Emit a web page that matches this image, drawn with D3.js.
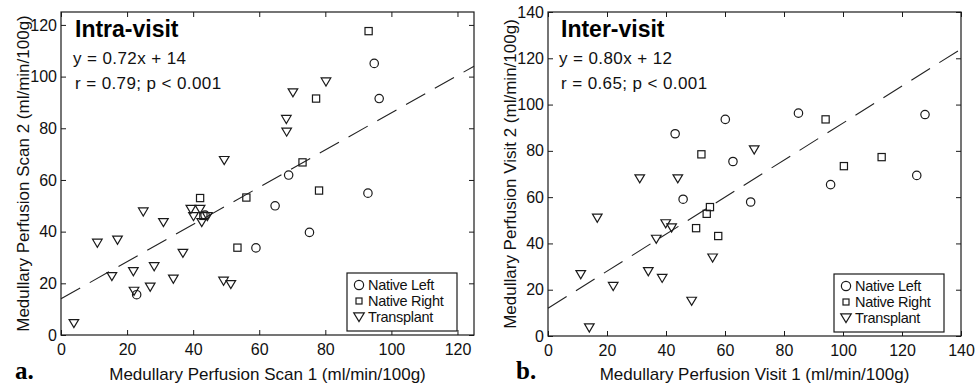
<!DOCTYPE html>
<html><head><meta charset="utf-8">
<script src="https://cdn.jsdelivr.net/npm/d3@7"></script>
<style>
html,body{margin:0;padding:0;background:#fff;}
svg{display:block;font-family:"Liberation Sans",Arial,sans-serif;}
</style></head>
<body><svg id="chart" width="980" height="390"></svg>
<script>
// ---- Data: Intra-visit (panel a) ----
const intraLeftX  = [94.8, 96.3, 68.9, 92.9, 64.8, 75.2, 59.0, 43.6, 22.9];
const intraLeftY  = [105.1, 91.5, 61.9, 54.9, 50.0, 39.7, 33.7, 46.4, 15.6];
const intraRightX = [93.1, 77.2, 73.1, 78.1, 56.1, 42.1, 43.1, 53.4];
const intraRightY = [117.6, 91.5, 66.8, 55.9, 53.2, 53.0, 46.1, 33.8];
const intraTransX = [80.2, 70.2, 68.2, 68.3, 49.4, 39.3, 42.1, 40.1, 42.6, 44.3, 24.9, 31.0, 11.0, 17.1, 36.9, 28.2, 21.9, 15.4, 34.0, 27.0, 22.1, 3.9, 49.2, 51.4];
const intraTransY = [98.0, 93.8, 83.5, 78.6, 67.6, 48.7, 48.7, 45.9, 43.6, 45.9, 47.7, 43.6, 35.6, 36.8, 31.7, 26.5, 24.6, 22.7, 21.7, 18.6, 17.0, 4.5, 20.9, 19.6];
// ---- Data: Inter-visit (panel b) ----
const interLeftX  = [43.1, 60.1, 62.7, 84.9, 127.8, 125.0, 95.8, 45.8, 68.7];
const interLeftY  = [87.4, 93.6, 75.4, 96.3, 95.7, 69.4, 65.4, 59.1, 57.9];
const interRightX = [52.0, 94.1, 113.1, 100.3, 53.8, 54.9, 50.2, 57.7];
const interRightY = [78.5, 93.6, 77.3, 73.4, 52.8, 55.7, 46.6, 43.2];
const interTransX = [31.1, 44.0, 69.9, 16.7, 39.9, 41.9, 36.7, 11.1, 22.1, 34.0, 38.7, 48.7, 14.0, 55.8];
const interTransY = [68.0, 68.0, 80.5, 51.0, 48.6, 46.8, 41.9, 26.6, 21.5, 27.9, 25.0, 15.1, 3.6, 33.8];
// ---- Fits, ticks, labels ----
const intraFit = {slope: 0.72, intercept: 14};
const interFit = {slope: 0.80, intercept: 12};
const intraTicks = [0, 20, 40, 60, 80, 100, 120];
const interTicks = [0, 20, 40, 60, 80, 100, 120, 140];
const legendLabels = ["Native Left", "Native Right", "Transplant"];

const svg = d3.select("#chart");
const INK = "#1a1a1a";

function marker(g, type, x, y, big) {
  const s = big ? 1.1 : 1;
  if (type === 0) {
    g.append("circle").attr("cx", x).attr("cy", y).attr("r", 4.2 * s)
      .attr("fill", "none").attr("stroke", INK).attr("stroke-width", 1.2);
  } else if (type === 1) {
    const h = big ? 3 : 3.6;
    g.append("rect").attr("x", x - h).attr("y", y - h).attr("width", 2 * h).attr("height", 2 * h)
      .attr("fill", "none").attr("stroke", INK).attr("stroke-width", 1.2);
  } else {
    const w = 4.8 * s, hh = 3.8 * s;
    g.append("path").attr("d", `M${x - w},${y - hh}L${x + w},${y - hh}L${x},${y + hh + 0.5}Z`)
      .attr("fill", "none").attr("stroke", INK).attr("stroke-width", 1.2);
  }
}

function panel(cfg) {
  const g = svg.append("g");
  const x = d3.scaleLinear().domain([0, cfg.max]).range([cfg.x0, cfg.x1]);
  const y = d3.scaleLinear().domain([0, cfg.max]).range([cfg.y1, cfg.y0]);

  const fs = "16px";
  const bottom = g.append("g").attr("transform", `translate(0,${cfg.y1})`)
    .call(d3.axisBottom(x).tickValues(cfg.ticks).tickSize(-5).tickPadding(9).tickFormat(d3.format("d")));
  const left = g.append("g").attr("transform", `translate(${cfg.x0},0)`)
    .call(d3.axisLeft(y).tickValues(cfg.ticks).tickSize(-5).tickPadding(4).tickFormat(d3.format("d")));
  const top = g.append("g").attr("transform", `translate(0,${cfg.y0})`)
    .call(d3.axisTop(x).tickValues(cfg.ticks).tickSize(-5).tickFormat(""));
  const right = g.append("g").attr("transform", `translate(${cfg.x1},0)`)
    .call(d3.axisRight(y).tickValues(cfg.ticks).tickSize(-5).tickFormat(""));
  [bottom, left, top, right].forEach(a => {
    a.select(".domain").remove();
    a.selectAll("line").attr("stroke", INK);
    a.selectAll("text").attr("font-size", fs).attr("fill", "#111")
      .attr("font-family", "Liberation Sans, Arial, sans-serif");
  });
  g.append("rect").attr("x", cfg.x0).attr("y", cfg.y0)
    .attr("width", cfg.x1 - cfg.x0).attr("height", cfg.y1 - cfg.y0)
    .attr("fill", "none").attr("stroke", INK).attr("stroke-width", 1.2);

  const xs = [0, cfg.max];
  g.append("line")
    .attr("x1", x(xs[0])).attr("y1", y(cfg.fit.intercept + cfg.fit.slope * xs[0]))
    .attr("x2", x(xs[1])).attr("y2", y(cfg.fit.intercept + cfg.fit.slope * xs[1]))
    .attr("stroke", "#222").attr("stroke-width", 1.1).attr("stroke-dasharray", "22,11");

  const pts = g.append("g");
  cfg.series.forEach((s, t) => {
    s.x.forEach((v, i) => marker(pts, t, x(v), y(s.y[i]), false));
  });

  g.append("text").attr("x", cfg.tx).attr("y", cfg.y0 + 25).attr("font-size", "23px")
    .attr("font-weight", "bold").attr("fill", "#000").text(cfg.title);
  g.append("text").attr("x", cfg.tx - 2).attr("y", cfg.y0 + 52).attr("font-size", "17px")
    .attr("letter-spacing", "0.4px").attr("fill", "#111").text(cfg.eq);
  g.append("text").attr("x", cfg.tx).attr("y", cfg.y0 + 77).attr("font-size", "17px")
    .attr("letter-spacing", "0.4px").attr("fill", "#111").text(cfg.stat);

  g.append("text").attr("x", (cfg.x0 + cfg.x1) / 2).attr("y", 380).attr("text-anchor", "middle")
    .attr("font-size", "17px").attr("fill", "#111").text(cfg.xlabel);
  g.append("text").attr("transform", `translate(${cfg.ylx},${(cfg.y0 + cfg.y1) / 2}) rotate(-90)`)
    .attr("text-anchor", "middle").attr("font-size", "17px").attr("fill", "#111").text(cfg.ylabel);

  g.append("text").attr("x", cfg.letterX).attr("y", 379).attr("font-size", "25px")
    .attr("font-weight", "bold").attr("font-family", "Liberation Serif, Times New Roman, serif")
    .attr("fill", "#000").text(cfg.letter);

  const lx = cfg.x1 - 127, ly = cfg.y1 - 62;
  const lg = g.append("g");
  lg.append("rect").attr("x", lx).attr("y", ly).attr("width", 110).attr("height", 58)
    .attr("fill", "#fff").attr("stroke", INK).attr("stroke-width", 1.2);
  legendLabels.forEach((lab, i) => {
    const cy = ly + 12 + i * 16;
    marker(lg, i, lx + 12, cy, true);
    lg.append("text").attr("x", lx + 21).attr("y", cy + 5).attr("font-size", "14.5px")
      .attr("fill", "#111").attr("letter-spacing", "-0.3px").text(lab);
  });
}

panel({
  x0: 61, x1: 474, y0: 12, y1: 335, max: 125, ticks: intraTicks, fit: intraFit,
  series: [{x: intraLeftX, y: intraLeftY}, {x: intraRightX, y: intraRightY}, {x: intraTransX, y: intraTransY}],
  title: "Intra-visit", eq: "y = 0.72x + 14", stat: "r = 0.79;  p < 0.001", tx: 75,
  xlabel: "Medullary Perfusion  Scan 1 (ml/min/100g)", ylabel: "Medullary Perfusion  Scan 2 (ml/min/100g)",
  ylx: 29, letter: "a.", letterX: 15
});
panel({
  x0: 548, x1: 961, y0: 12, y1: 336, max: 140, ticks: interTicks, fit: interFit,
  series: [{x: interLeftX, y: interLeftY}, {x: interRightX, y: interRightY}, {x: interTransX, y: interTransY}],
  title: "Inter-visit", eq: "y = 0.80x + 12", stat: "r = 0.65;  p < 0.001", tx: 561,
  xlabel: "Medullary Perfusion  Visit 1 (ml/min/100g)", ylabel: "Medullary Perfusion  Visit 2 (ml/min/100g)",
  ylx: 516, letter: "b.", letterX: 516
});
</script>
</body></html>
